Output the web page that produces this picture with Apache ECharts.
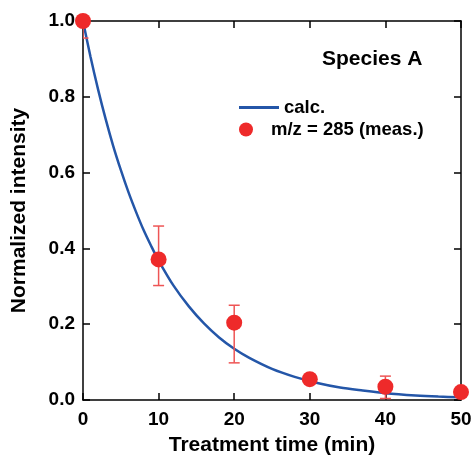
<!DOCTYPE html>
<html><head><meta charset="utf-8">
<script src="https://cdn.jsdelivr.net/npm/echarts@6/dist/echarts.min.js"></script>
<style>html,body{margin:0;padding:0;background:#fff}#c{width:474px;height:455px}</style>
</head><body><div id="c"></div>
<script>
// calculated curve
var calcX = [0, 1, 2, 3, 4, 5, 6, 7, 8, 9, 10, 12, 14, 16, 18, 20, 22, 25, 28, 31, 34, 37, 40, 44, 47, 50];
var calcY = [1.0, 0.905, 0.819, 0.741, 0.670, 0.607, 0.549, 0.497, 0.449, 0.407, 0.368, 0.301, 0.247, 0.202, 0.165, 0.135, 0.111, 0.082, 0.061, 0.045, 0.033, 0.025, 0.018, 0.012, 0.009, 0.007];
// measured points
var measX = [0, 10, 20, 30, 40, 50];
var measY = [1.0, 0.371, 0.204, 0.055, 0.035, 0.021];
var errLow = [0.955, 0.302, 0.098, 0.050, 0.004, 0.018];
var errHigh = [1.045, 0.459, 0.250, 0.060, 0.063, 0.024];
var xTicks = [0, 10, 20, 30, 40, 50];

var FONT = '"Liberation Sans", Arial, sans-serif';
var chart = echarts.init(document.getElementById('c'), null, {renderer: 'canvas'});
var axisCommon = {
  axisLine: {show: true, onZero: false, lineStyle: {color: '#000', width: 1.5}},
  axisTick: {show: true, inside: true, length: 7, lineStyle: {color: '#000', width: 1.5}},
  splitLine: {show: false}
};
var legText = {fontFamily: FONT, fontWeight: 'bold', fontSize: 18.5, color: '#000'};
chart.setOption({
  animation: false,
  grid: {left: 83, right: 13, top: 21, bottom: 55, containLabel: false, outerBoundsMode: 'none'},
  legend: [{
    data: [{name: 'calc.', icon: 'rect'}], orient: 'vertical', left: 234, top: 93,
    itemWidth: 40, itemHeight: 3, textStyle: legText
  }, {
    data: [{name: 'm/z = 285 (meas.)', icon: 'circle'}], orient: 'vertical', left: 234, top: 115,
    itemWidth: 40, itemHeight: 14, textStyle: legText
  }],
  title: {text: 'Species A', left: 317, top: 44, textStyle: {fontFamily: FONT, fontWeight: 'bold', fontSize: 21, color: '#000'}},
  xAxis: [Object.assign({
    type: 'value', min: 0, max: 50, interval: 10, position: 'bottom',
    name: 'Treatment time (min)', nameLocation: 'middle', nameGap: 35,
    nameTextStyle: {fontFamily: FONT, fontWeight: 'bold', fontSize: 21, color: '#000'},
    axisLabel: {fontFamily: FONT, fontWeight: 'bold', fontSize: 19, color: '#000', margin: 10,
      formatter: function (v) { return xTicks.indexOf(v) >= 0 ? String(v) : ''; }}
  }, axisCommon), Object.assign({
    type: 'value', min: 0, max: 50, interval: 10, position: 'top', axisLabel: {show: false}
  }, axisCommon)],
  yAxis: [Object.assign({
    type: 'value', min: 0, max: 1.0, interval: 0.2, position: 'left',
    name: 'Normalized intensity', nameLocation: 'middle', nameGap: 53, nameRotate: 90,
    nameTextStyle: {fontFamily: FONT, fontWeight: 'bold', fontSize: 21, color: '#000'},
    axisLabel: {fontFamily: FONT, fontWeight: 'bold', fontSize: 19, color: '#000', margin: 8,
      formatter: function (v) { return v.toFixed(1); }}
  }, axisCommon), Object.assign({
    type: 'value', min: 0, max: 1.0, interval: 0.2, position: 'right', axisLabel: {show: false}
  }, axisCommon)],
  series: [{
    name: 'calc.', type: 'line', smooth: 0.3, symbol: 'none',
    lineStyle: {color: '#2456A8', width: 2.5}, itemStyle: {color: '#2456A8'},
    data: calcX.map(function (x, i) { return [x, calcY[i]]; }), z: 2
  }, {
    name: 'errbars', type: 'custom', clip: true, z: 3,
    data: measX.map(function (x, i) { return [x, errLow[i], errHigh[i]]; }),
    renderItem: function (params, api) {
      var lo = api.coord([api.value(0), api.value(1)]);
      var hi = api.coord([api.value(0), api.value(2)]);
      var w = 5.5;
      var st = {stroke: '#EE5555', lineWidth: 1.5};
      return {type: 'group', children: [
        {type: 'line', shape: {x1: lo[0], y1: lo[1], x2: hi[0], y2: hi[1]}, style: st},
        {type: 'line', shape: {x1: lo[0] - w, y1: lo[1], x2: lo[0] + w, y2: lo[1]}, style: st},
        {type: 'line', shape: {x1: hi[0] - w, y1: hi[1], x2: hi[0] + w, y2: hi[1]}, style: st}
      ]};
    }
  }, {
    name: 'm/z = 285 (meas.)', type: 'scatter', symbol: 'circle', symbolSize: 16, z: 4,
    itemStyle: {color: '#EE2A2A', opacity: 1},
    data: measX.map(function (x, i) { return [x, measY[i]]; })
  }]
});
</script></body></html>
